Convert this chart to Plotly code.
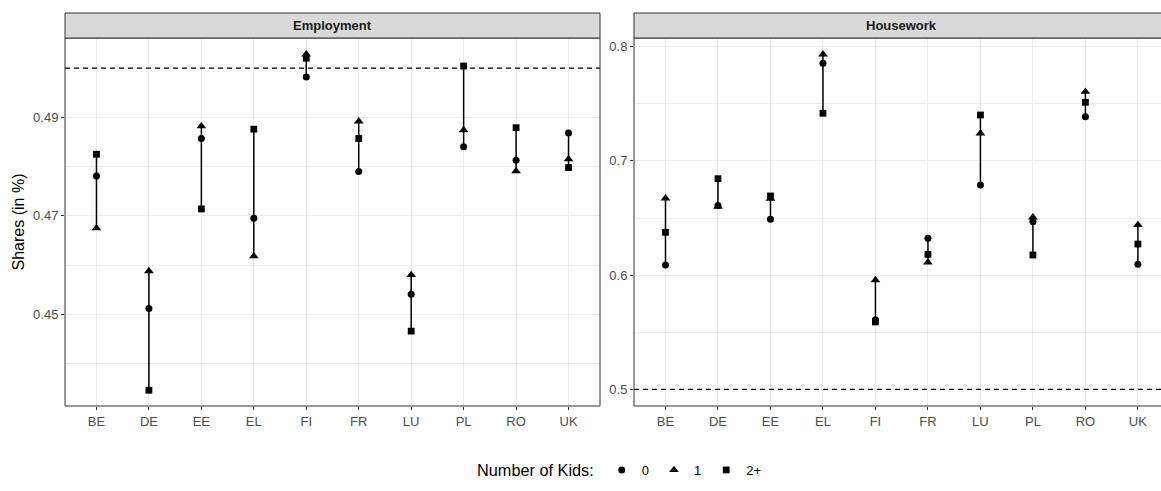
import plotly.graph_objects as go

# ---------------- data ----------------
countries = ["BE", "DE", "EE", "EL", "FI", "FR", "LU", "PL", "RO", "UK"]
panels = ["Employment", "Housework"]
kid_groups = ["0", "1", "2+"]

emp_kids0 = [0.4781, 0.4512, 0.4857, 0.4695, 0.4982, 0.4790, 0.4541, 0.4840, 0.4813, 0.4868]
emp_kids1 = [0.4675, 0.4588, 0.4882, 0.4618, 0.5028, 0.4892, 0.4580, 0.4874, 0.4791, 0.4815]
emp_kids2 = [0.4825, 0.4346, 0.4714, 0.4876, 0.5020, 0.4857, 0.4466, 0.5004, 0.4879, 0.4798]

hw_kids0 = [0.6088, 0.6610, 0.6489, 0.7855, 0.5610, 0.6322, 0.6789, 0.6468, 0.7387, 0.6095]
hw_kids1 = [0.6672, 0.6600, 0.6670, 0.7933, 0.5957, 0.6112, 0.7242, 0.6506, 0.7606, 0.6439]
hw_kids2 = [0.6375, 0.6844, 0.6693, 0.7417, 0.5590, 0.6182, 0.7402, 0.6176, 0.7513, 0.6272]

reference_share = 0.5

emp_ticks = [0.45, 0.47, 0.49]
hw_ticks = [0.5, 0.6, 0.7, 0.8]

# ---------------- styling ----------------
W, H = 1161, 491
FONT = "Liberation Sans, Arial, sans-serif"
symbols = {"0": "circle", "1": "triangle-up", "2+": "square"}
sizes = {"0": 7, "1": 8.5, "2+": 6.8}

def px_x(p):
    return p / W

def px_y(p):
    return (H - p) / H

ydom = [px_y(406), px_y(38)]
left_dom = [px_x(65), px_x(600)]
right_dom = [px_x(634), 1.0]

fig = go.Figure()

panel_data = [
    ("x", "y", [emp_kids0, emp_kids1, emp_kids2]),
    ("x2", "y2", [hw_kids0, hw_kids1, hw_kids2]),
]

for pi, (xa, ya, series) in enumerate(panel_data):
    # vertical range segments
    sx, sy = [], []
    for ci, c in enumerate(countries):
        vals = [s[ci] for s in series]
        sx += [c, c, None]
        sy += [min(vals), max(vals), None]
    fig.add_trace(go.Scatter(x=sx, y=sy, mode="lines", xaxis=xa, yaxis=ya,
                             line=dict(color="black", width=1.5),
                             showlegend=False, hoverinfo="skip"))
    for g, s in zip(kid_groups, series):
        fig.add_trace(go.Scatter(
            x=countries, y=s, mode="markers", xaxis=xa, yaxis=ya,
            name=g, legendgroup=g, showlegend=(pi == 0),
            marker=dict(symbol=symbols[g], size=sizes[g], color="black",
                        line=dict(width=0)),
        ))

grid_major = "#EBEBEB"
tick_font = dict(family=FONT, size=13, color="#4D4D4D")

common_x = dict(type="category", categoryorder="array", categoryarray=countries,
                showgrid=True, gridcolor=grid_major, gridwidth=1.1,
                ticks="outside", ticklen=3, tickcolor="#333333", tickwidth=1,
                tickfont=tick_font, showline=False, zeroline=False,
                automargin=False)

fig.update_layout(
    width=W, height=H,
    margin=dict(l=0, r=0, t=0, b=0),
    paper_bgcolor="white", plot_bgcolor="white",
    font=dict(family=FONT, color="black"),
    xaxis=dict(common_x, domain=left_dom, range=[-0.6, 9.6], anchor="y"),
    xaxis2=dict(common_x, domain=right_dom, range=[-0.6, 9.44], anchor="y2"),
    yaxis=dict(domain=ydom, range=[0.4314, 0.5061], anchor="x",
               tickvals=emp_ticks, ticktext=[f"{v:.2f}" for v in emp_ticks],
               showgrid=True, gridcolor=grid_major, gridwidth=1.1,
               minor=dict(tickmode="array", tickvals=[0.44, 0.46, 0.48, 0.50],
                          showgrid=True, gridcolor=grid_major, gridwidth=0.6, ticks=""),
               ticks="outside", ticklen=3, tickcolor="#333333", tickwidth=1,
               tickfont=tick_font, zeroline=False, automargin=False,
               title=dict(text="Shares (in %)", font=dict(family=FONT, size=16, color="black"),
                          standoff=4)),
    yaxis2=dict(domain=ydom, range=[0.4854, 0.8076], anchor="x2",
                tickvals=hw_ticks, ticktext=[f"{v:.1f}" for v in hw_ticks],
                showgrid=True, gridcolor=grid_major, gridwidth=1.1,
                minor=dict(tickmode="array", tickvals=[0.55, 0.65, 0.75],
                           showgrid=True, gridcolor=grid_major, gridwidth=0.6, ticks=""),
                ticks="outside", ticklen=3, tickcolor="#333333", tickwidth=1,
                tickfont=tick_font, zeroline=False, automargin=False),
    legend=dict(orientation="h", x=px_x(475), xanchor="left",
                y=px_y(471), yanchor="middle",
                title=dict(text="Number of Kids:", side="left",
                           font=dict(family=FONT, size=16.3, color="black")),
                font=dict(family=FONT, size=13, color="black"),
                bgcolor="rgba(0,0,0,0)", itemclick=False),
)

shapes = []
# reference dashed lines
for xa, ya in [("x", "y"), ("x2", "y2")]:
    shapes.append(dict(type="line", xref=f"{xa} domain", yref=ya, x0=0, x1=1,
                       y0=reference_share, y1=reference_share,
                       line=dict(color="black", width=1.2, dash="5px,4px"), layer="above"))
# panel borders
shapes.append(dict(type="rect", xref="paper", yref="paper", x0=left_dom[0], x1=left_dom[1],
                   y0=ydom[0], y1=ydom[1], line=dict(color="#333333", width=1), layer="above"))
shapes.append(dict(type="rect", xref="paper", yref="paper", x0=right_dom[0], x1=1.02,
                   y0=ydom[0], y1=ydom[1], line=dict(color="#333333", width=1), layer="above"))
# strips
for x0, x1 in [(left_dom[0], left_dom[1]), (right_dom[0], 1.02)]:
    shapes.append(dict(type="rect", xref="paper", yref="paper", x0=x0, x1=x1,
                       y0=px_y(38), y1=px_y(13), fillcolor="#D9D9D9",
                       line=dict(color="#333333", width=1), layer="above"))
fig.update_layout(shapes=shapes)

annotations = []
for xa, title in [("x", panels[0]), ("x2", panels[1])]:
    annotations.append(dict(text=f"<b>{title}</b>", xref=xa, yref="paper", x=4.5,
                            y=px_y(25.5), xanchor="center", yanchor="middle", showarrow=False,
                            font=dict(family=FONT, size=13, color="#1A1A1A")))
fig.update_layout(annotations=annotations)

fig.write_html("out.html",
               config={"displayModeBar": False},
               post_script="document.body.style.margin='0';document.body.style.padding='0';"
                           "document.body.style.overflow='hidden';")
